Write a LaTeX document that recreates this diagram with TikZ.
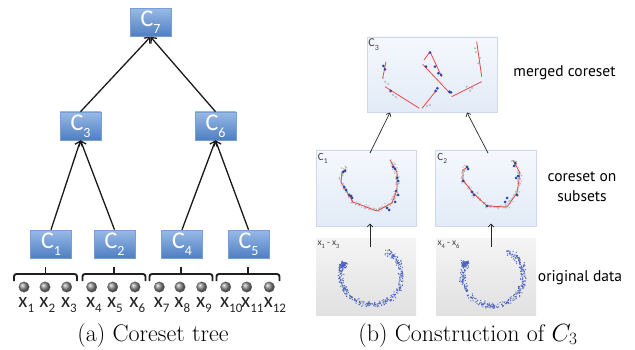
\documentclass[tikz,border=0pt]{standalone}
\usepackage{fontspec}
\usetikzlibrary{arrows.meta}
\newfontfamily\calibri{Carlito}
\newfontfamily\sidefont{PT Sans}

\definecolor{boxtop}{RGB}{152,186,230}
\definecolor{boxbot}{RGB}{78,126,194}
\definecolor{boxline}{RGB}{120,158,212}
\definecolor{paneltop}{RGB}{245,248,253}
\definecolor{panelbot}{RGB}{226,235,247}
\definecolor{panelline}{RGB}{208,216,234}
\definecolor{graytop}{RGB}{244,244,244}
\definecolor{graybot}{RGB}{225,225,225}
\definecolor{datablue}{RGB}{72,98,190}
\definecolor{coreblue}{RGB}{45,72,165}
\definecolor{fitred}{RGB}{232,72,72}
\definecolor{haze}{RGB}{165,165,165}
\definecolor{inktext}{RGB}{35,35,35}

% lowered index in the current text font
\newcommand\lowidx[2][13]{\raisebox{-0.28em}{\fontsize{#1}{#1}\selectfont #2}}

% noisy points along an open spiral arc: cx, cy, seed, count, style, bulge, noise
\newcommand\spiralcloud[7]{%
  \pgfmathsetseed{#3}%
  \foreach \k in {1,...,#4}{%
    \pgfmathsetmacro\cu{rnd}%
    \pgfmathsetmacro\cth{166+244*\cu}%
    \pgfmathsetmacro\crr{29+#6*sin(180*\cu)-0.6*#6*\cu}%
    \pgfmathsetmacro\cpx{#1+\crr*cos(\cth)+#7*(rand+rand)}%
    \pgfmathsetmacro\cpy{#2-\crr*sin(\cth)+#7*(rand+rand)}%
    \fill[#5] (\cpx,\cpy) circle[radius=0.65pt];%
  }%
}
% dense clump of points: cx, cy, seed, count, style
\newcommand\clump[5]{%
  \pgfmathsetseed{#3}%
  \foreach \k in {1,...,#4}{%
    \pgfmathsetmacro\cpx{#1+2.3*(rand+rand)}%
    \pgfmathsetmacro\cpy{#2+2.3*(rand+rand)}%
    \fill[#5] (\cpx,\cpy) circle[radius=0.65pt];%
  }%
}
% points scattered around straight pieces: seed, style, list of ax/ay/bx/by/count
\newcommand\segcloud[3]{%
  \pgfmathsetseed{#1}%
  \foreach \ax/\ay/\bx/\by/\nn in {#3}{%
    \foreach \k in {1,...,\nn}{%
      \pgfmathsetmacro\cu{rnd}%
      \pgfmathsetmacro\cpx{\ax+(\bx-\ax)*\cu+1.5*(rand+rand)}%
      \pgfmathsetmacro\cpy{\ay+(\by-\ay)*\cu+1.5*(rand+rand)}%
      \fill[#2] (\cpx,\cpy) circle[radius=0.7pt];%
    }%
  }%
}

\begin{document}
\begin{tikzpicture}[x=1pt,y=-1pt,
  cbox/.style={rectangle, minimum width=41pt, minimum height=28pt, inner sep=0pt,
    top color=boxtop, bottom color=boxbot, draw=boxline, line width=0.6pt,
    text=white, font=\calibri\fontsize{24}{24}\selectfont},
  leaf/.style={circle, minimum size=10.5pt, inner sep=0pt, ball color=black!45,
    draw=black!60, line width=0.3pt},
  xlab/.style={anchor=base, inner sep=0pt, text=inktext,
    font=\calibri\fontsize{21}{21}\selectfont},
  brace/.style={line width=1.9pt, black!88, rounded corners=2.5pt},
  treearrow/.style={line width=1.3pt, black!90, -{Straight Barb[length=4.5pt,width=8pt]}},
  thinarrow/.style={line width=0.7pt, black!85, -{Straight Barb[length=3pt,width=5.5pt]}},
  bluepanel/.style={rectangle, inner sep=0pt, top color=paneltop, bottom color=panelbot,
    draw=panelline, line width=0.6pt},
  graypanel/.style={rectangle, inner sep=0pt, top color=graytop, bottom color=graybot},
  tag/.style={anchor=north west, inner sep=0pt, text=black!75},
  sidetext/.style={inner sep=0pt, text=black, align=center,
    font=\sidefont\fontsize{15.5}{20}\selectfont},
  caption/.style={anchor=base, inner sep=0pt, font=\fontsize{24}{28}\selectfont},
  fitline/.style={fitred, line width=0.8pt},
  rep/.style={coreblue},
  dot/.style={datablue},
  faint/.style={haze, opacity=0.75}]

\useasboundingbox (0,0) rectangle (635,350);

% ---------------- coreset tree ----------------
\node[cbox] (c7) at (150.5,22.5) {C\lowidx[14]{7}};
\node[cbox] (c3) at (80.5,126) {C\lowidx[14]{3}};
\node[cbox] (c6) at (215.5,126) {C\lowidx[14]{6}};
\node[cbox] (c1) at (51,244) {C\lowidx[14]{1}};
\node[cbox] (c2) at (114.5,244) {C\lowidx[14]{2}};
\node[cbox] (c4) at (182,244) {C\lowidx[14]{4}};
\node[cbox] (c5) at (248.5,244) {C\lowidx[14]{5}};

\draw[treearrow] (c3.north) -- (c7.south);
\draw[treearrow] (c6.north) -- (c7.south);
\draw[treearrow] (c1.north) -- (c3.south);
\draw[treearrow] (c2.north) -- (c3.south);
\draw[treearrow] (c4.north) -- (c6.south);
\draw[treearrow] (c5.north) -- (c6.south);

% braces grouping the leaves
\foreach \g/\xc in {1/45.5,2/114,3/181,4/248}{
  \draw[brace] (\xc-31.5,281) -- (\xc-31.5,274) -- (\xc+31.5,274) -- (\xc+31.5,281);
  \draw[brace] (\xc,274) -- (\xc,267);
}

% leaves and their labels
\foreach \i/\xp in {1/24,2/45,3/66.7,4/91.7,5/112.7,6/135,7/159.3,8/180,9/201.7,10/225.7,11/246.7,12/269.3}{
  \node[leaf] (x\i) at (\xp,287) {};
  \node[xlab] (lx\i) at (\xp-1,307) {x\rlap{\lowidx[13]{\i}}};
}

\node[caption] (capa) at (153,341) {(a) Coreset tree};

% ---------------- construction of C3 ----------------
\node[bluepanel, minimum width=130pt, minimum height=75pt] (merged) at (432,74.5) {};
\node[bluepanel, minimum width=100pt, minimum height=76pt] (core1) at (366,188) {};
\node[bluepanel, minimum width=101pt, minimum height=76pt] (core2) at (486,188) {};
\node[graypanel, minimum width=100pt, minimum height=77pt] (data1) at (366,276.5) {};
\node[graypanel, minimum width=100pt, minimum height=77pt] (data2) at (486,276.5) {};

\node[tag, font=\calibri\fontsize{12}{12}\selectfont] (t3) at ([shift={(1.5,2)}]merged.north west) {C\lowidx[8]{3}};
\node[tag, font=\calibri\fontsize{11}{11}\selectfont] (t1) at ([shift={(2,3)}]core1.north west) {C\lowidx[7.5]{1}};
\node[tag, font=\calibri\fontsize{11}{11}\selectfont] (t2) at ([shift={(2,3)}]core2.north west) {C\lowidx[7.5]{2}};
\node[tag, font=\calibri\fontsize{9.5}{9.5}\selectfont] (t4) at ([shift={(1.5,3)}]data1.north west) {x\lowidx[6.5]{1} - x\lowidx[6.5]{3}};
\node[tag, font=\calibri\fontsize{9.5}{9.5}\selectfont] (t5) at ([shift={(1.5,3)}]data2.north west) {x\lowidx[6.5]{4} - x\lowidx[6.5]{6}};

% original data
\spiralcloud{371}{270}{11}{340}{dot}{8}{1.8}
\clump{343}{265}{12}{70}{dot}
\spiralcloud{493}{271}{21}{340}{dot}{8}{1.8}
\clump{465}{264}{22}{70}{dot}

% coreset of the first subset
\segcloud{31}{faint}{346/166/342/172/10, 342/172/341/182/12, 341/182/353/202/28,
  353/202/377/211/32, 377/211/392/203/20, 392/203/397/190/18, 397/190/397/172/22,
  397/172/390/160/18}
\draw[fitline] (346,169.5) -- (342,172) -- (341,182) -- (353,202) -- (377,211)
  -- (392,203) -- (397,190) -- (397,172) -- (390,160);
\foreach \p in {(343,172),(345,171),(344,187),(346,190),(349,195),(352,198),(351,196),
  (393,167),(395,169),(397,178),(398,181),(398,195),(396,191),(395,202),(387,208),(389,210)}
  \fill[rep] \p circle[radius=1.5pt];

% coreset of the second subset
\segcloud{41}{faint}{466/165/463/170/10, 463/170/463/180/12, 463/180/473/193/20,
  473/193/487/206/22, 487/206/507/207/24, 507/207/517/193/20, 517/193/520/173/24,
  520/173/513/160/18}
\draw[fitline] (466,168) -- (463,170) -- (463,180) -- (473,193) -- (487,206)
  -- (507,207) -- (517,193) -- (520,173) -- (513,160);
\foreach \p in {(467,167),(468,169),(463,181),(472,192),(474,195),(487,206),(505,202),
  (507,198),(517,195),(518,176),(516,178),(515,163),(514,166)}
  \fill[rep] \p circle[radius=1.5pt];

% merged coreset
\foreach \p in {(385,81.7),(475,48.3),(466.7,86.7),(470,90.7),(430,105),(478.3,63.3),
  (393,95),(388,84),(472,88),(480,58),(476,52),(396,97),(427,106),(383,78)}
  \fill[haze, opacity=0.7] \p circle[radius=1.2pt];
\draw[fitline] (386,61.7) -- (382.7,78);
\draw[fitline] (385,86.7) -- (419.3,108.3);
\draw[fitline] (422,108.3) -- (436.7,90);
\draw[fitline] (424,60) -- (430,51.7) -- (441.7,76.7);
\draw[fitline] (422.7,64.3) -- (450,93.3);
\draw[fitline] (451.7,96.7) -- (481.7,81.7);
\draw[fitline] (476.7,41.7) -- (481.7,76.7);
\foreach \p in {(383.3,66),(385,69.3),(390.7,91),(430,52.7),(426,66.7),(435,66.7),
  (438.3,73.3),(441,75),(437.3,88.3),(435.5,91),(449.3,91.7),(451,92.3)}
  \fill[rep] \p circle[radius=1.5pt];

% connectors between the stages
\coordinate (d1src) at (370,247);
\coordinate (d1dst) at (370,223.5);
\coordinate (d2src) at (491,247);
\coordinate (d2dst) at (491,223.5);
\coordinate (k1src) at (370,153);
\coordinate (k1dst) at (390,112.5);
\coordinate (k2src) at (488,153);
\coordinate (k2dst) at (467,112.5);
\draw[thinarrow] (d1src) -- (d1dst);
\draw[thinarrow] (d2src) -- (d2dst);
\draw[thinarrow] (k1src) -- (k1dst);
\draw[thinarrow] (k2src) -- (k2dst);

\node[sidetext] (lm) at (564.5,73) {merged coreset};
\node[sidetext] (lc) at (582,187) {coreset on\\subsets};
\node[sidetext] (lo) at (580,278) {original data};

\node[caption] (capb) at (468,341) {(b) Construction of $C_3$};
\end{tikzpicture}
\end{document}
